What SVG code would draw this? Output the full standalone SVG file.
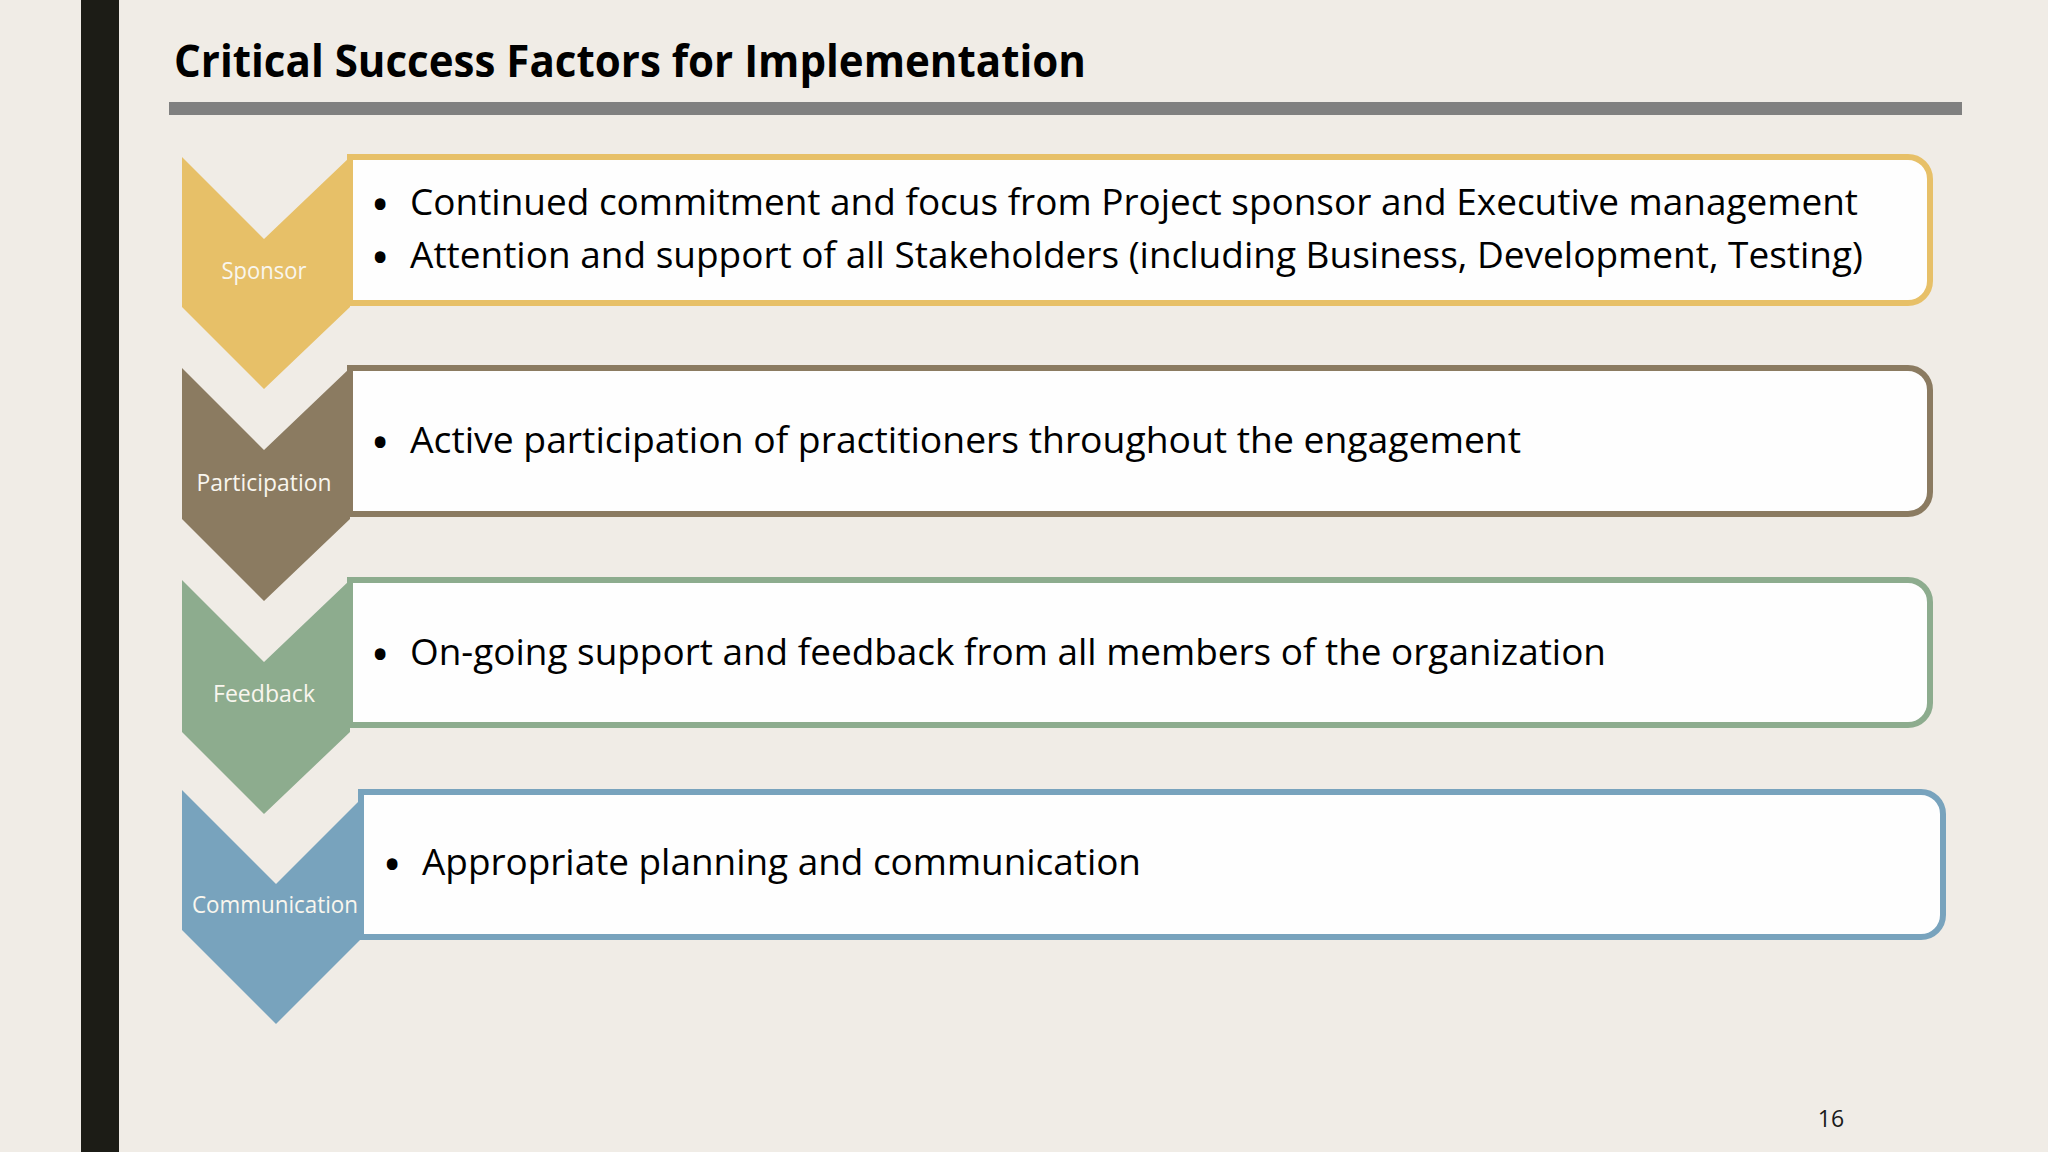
<svg xmlns="http://www.w3.org/2000/svg" width="2048" height="1152" viewBox="0 0 2048 1152">
  <style>
    .box { fill: #fefefe; stroke-width: 6; }
    .lbl { font-family: "Open Sans", "Liberation Sans", sans-serif; font-size: 23px; fill: #f9f6ee; text-anchor: middle; }
    .body { font-family: "Open Sans", "Liberation Sans", sans-serif; font-size: 37px; fill: #000; }
    .bul { font-family: "Open Sans", "Liberation Sans", sans-serif; font-size: 38px; font-weight: bold; fill: #000; }
    .title { font-family: "Open Sans", "Liberation Sans", sans-serif; font-size: 44px; font-weight: bold; fill: #000; }
    .pg { font-family: "Open Sans", "Liberation Sans", sans-serif; font-size: 23px; fill: #1a1a1a; text-anchor: middle; }
  </style>
  <rect x="0" y="0" width="2048" height="1152" fill="#f0ece6"/>
  <rect x="81" y="0" width="38" height="1152" fill="#1c1c16"/>

  <g id="title">
    <text class="title" x="174" y="77" textLength="912" lengthAdjust="spacingAndGlyphs">Critical Success Factors for Implementation</text>
    <rect x="169" y="102" width="1793" height="13" fill="#808080"/>
  </g>

  <g id="node-sponsor">
    <polygon points="182,157 264,239 350,157 350,307 264,389 182,307" fill="#e7c068"/>
    <path class="box" stroke="#e7c068" d="M350,157 H1908 A22,22 0 0 1 1930,179 V281 A22,22 0 0 1 1908,303 H350 Z"/>
    <text class="lbl" x="264" y="279" textLength="85" lengthAdjust="spacingAndGlyphs">Sponsor</text>
    <text class="bul" x="373" y="218">•</text>
    <text class="body" x="410" y="215" textLength="1448" lengthAdjust="spacingAndGlyphs">Continued commitment and focus from Project sponsor and Executive management</text>
    <text class="bul" x="373" y="271">•</text>
    <text class="body" x="410" y="268" textLength="1453" lengthAdjust="spacingAndGlyphs">Attention and support of all Stakeholders (including Business, Development, Testing)</text>
  </g>

  <g id="node-participation">
    <polygon points="182,368 264,450 350,368 350,519 264,601 182,519" fill="#8b7b61"/>
    <path class="box" stroke="#8b7b61" d="M350,368 H1908 A22,22 0 0 1 1930,390 V492 A22,22 0 0 1 1908,514 H350 Z"/>
    <text class="lbl" x="264" y="491" textLength="135" lengthAdjust="spacingAndGlyphs">Participation</text>
    <text class="bul" x="373" y="456">•</text>
    <text class="body" x="410" y="453" textLength="1111" lengthAdjust="spacingAndGlyphs">Active participation of practitioners throughout the engagement</text>
  </g>

  <g id="node-feedback">
    <polygon points="182,580 264,662 350,580 350,732 264,814 182,732" fill="#8dac8e"/>
    <path class="box" stroke="#8dac8e" d="M350,580 H1908 A22,22 0 0 1 1930,602 V703 A22,22 0 0 1 1908,725 H350 Z"/>
    <text class="lbl" x="264" y="702" textLength="102" lengthAdjust="spacingAndGlyphs">Feedback</text>
    <text class="bul" x="373" y="668">•</text>
    <text class="body" x="410" y="665" textLength="1196" lengthAdjust="spacingAndGlyphs">On-going support and feedback from all members of the organization</text>
  </g>

  <g id="node-communication">
    <polygon points="182,790 276,884 370,790 370,930 276,1024 182,930" fill="#78a3bd"/>
    <path class="box" stroke="#78a3bd" d="M361,792 H1921 A22,22 0 0 1 1943,814 V915 A22,22 0 0 1 1921,937 H361 Z"/>
    <text class="lbl" x="275" y="913" textLength="166" lengthAdjust="spacingAndGlyphs">Communication</text>
    <text class="bul" x="385" y="878">•</text>
    <text class="body" x="422" y="875" textLength="719" lengthAdjust="spacingAndGlyphs">Appropriate planning and communication</text>
  </g>

  <g id="connectors"></g>

  <text class="pg" x="1831" y="1127">16</text>
</svg>
